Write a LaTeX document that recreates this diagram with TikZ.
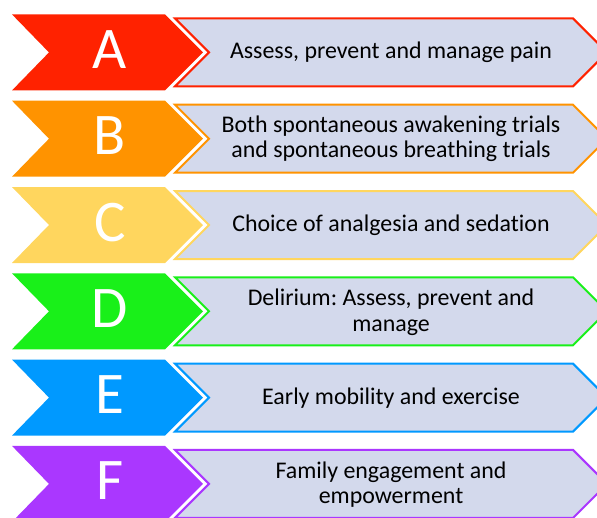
\documentclass[tikz,border=0pt]{standalone}
\usepackage{fontspec}
\setmainfont{Carlito}[Ligatures={NoCommon,NoRequired}]
\frenchspacing
\definecolor{cA}{RGB}{255,34,0}
\definecolor{cB}{RGB}{255,147,0}
\definecolor{cC}{RGB}{255,214,94}
\definecolor{cD}{RGB}{25,240,25}
\definecolor{cE}{RGB}{0,153,255}
\definecolor{cF}{RGB}{170,55,255}
\definecolor{boxfill}{RGB}{211,217,236}
\tikzset{
  lettertext/.style={text=white, font=\fontsize{59}{59}\selectfont, anchor=base, inner sep=0pt},
  itemtext/.style={text=black, font=\fontsize{23.9}{26}\selectfont\frenchspacing, anchor=base, inner sep=0pt},
}
\newcommand\chevrow[2]{%
  \fill[#2] (12,#1-38) -- (165,#1-38) -- (203,#1) -- (165,#1+38) -- (12,#1+38) -- (49,#1) -- cycle;
  \draw[white, line width=6pt, line join=miter] (175,#1-34) -- (573,#1-34) -- (607,#1) -- (573,#1+34) -- (175,#1+34) -- (209,#1) -- cycle;
  \draw[#2, line width=2pt, fill=boxfill, line join=miter] (175,#1-34) -- (573,#1-34) -- (607,#1) -- (573,#1+34) -- (175,#1+34) -- (209,#1) -- cycle;
}
\begin{document}
\begin{tikzpicture}[x=1pt,y=-1pt]
\useasboundingbox (0,0) rectangle (597,517);
\clip (0,0) rectangle (597,517);
\chevrow{52.4}{cA}
\chevrow{138.7}{cB}
\chevrow{225}{cC}
\chevrow{311.3}{cD}
\chevrow{397.6}{cE}
\chevrow{483.9}{cF}
\node[lettertext] (lA) at (110,68.4) {A};
\node[lettertext] (lB) at (110,154.7) {B};
\node[lettertext] (lC) at (110,241) {C};
\node[lettertext] (lD) at (110,327.3) {D};
\node[lettertext] (lE) at (110,413.6) {E};
\node[lettertext] (lF) at (110,499.9) {F};
\node[itemtext] (tA) at (391,58.6) {Assess, prevent and manage pain};
\node[itemtext] (tB1) at (391,132.7) {Both spontaneous awakening trials};
\node[itemtext] (tB2) at (391,157.3) {and spontaneous breathing trials};
\node[itemtext] (tC) at (391,231) {Choice of analgesia and sedation};
\node[itemtext] (tD1) at (391,305.5) {Delirium: Assess, prevent and};
\node[itemtext] (tD2) at (391,331.5) {manage};
\node[itemtext] (tE) at (391,404.5) {Early mobility and exercise};
\node[itemtext] (tF1) at (391,478.3) {Family engagement and};
\node[itemtext] (tF2) at (391,503.3) {empowerment};
\end{tikzpicture}
\end{document}
